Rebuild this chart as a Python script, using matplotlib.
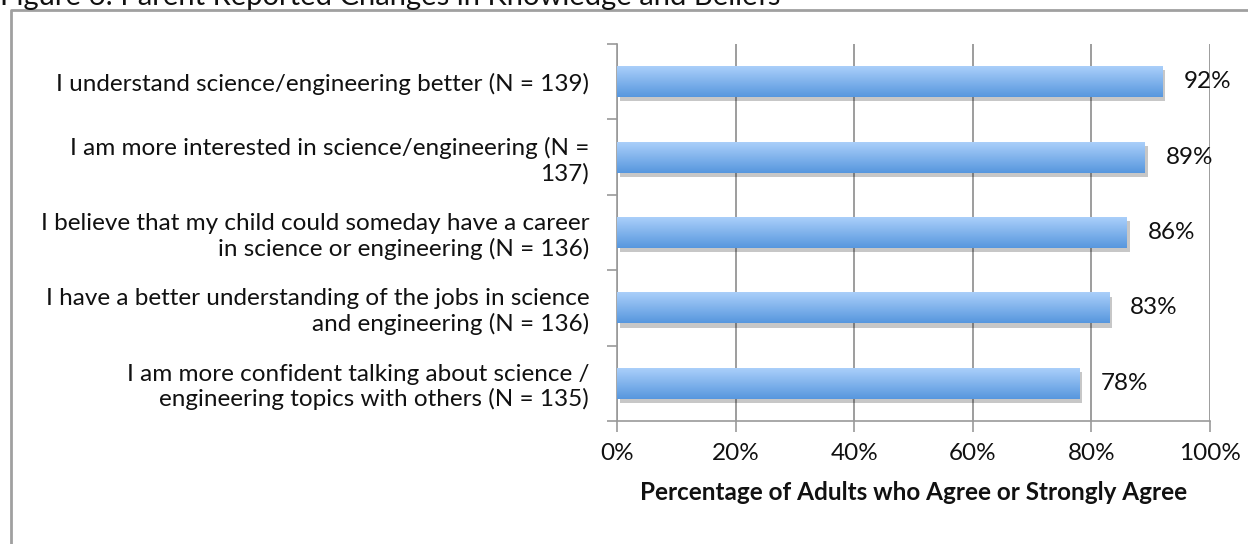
import numpy as np
import matplotlib
matplotlib.use("Agg")
import matplotlib.pyplot as plt
import matplotlib.patheffects as pe
from matplotlib.lines import Line2D
from matplotlib.colors import LinearSegmentedColormap
from matplotlib.ticker import FixedLocator, PercentFormatter

plt.rcParams['font.family'] = ['Lato', 'DejaVu Sans']

# ---- data ----
title = "Figure 6: Parent Reported Changes in Knowledge and Beliefs"
labels = [
    "I understand science/engineering better (N = 139)",
    "I am more interested in science/engineering (N =\n137)",
    "I believe that my child could someday have a career\nin science or engineering (N = 136)",
    "I have a better understanding of the jobs in science\nand engineering (N = 136)",
    "I am more confident talking about science /\nengineering topics with others (N = 135)",
]
values = [92, 89, 86, 83, 78]
xlabel = "Percentage of Adults who Agree or Strongly Agree"

W, H = 1248, 544
FS = 17.5
fig = plt.figure(figsize=(W / 100, H / 100), dpi=100)
ax = fig.add_axes([617 / W, 1 - 421 / H, (1210 - 617) / W, (421 - 44) / H])

y = np.arange(len(values))
bh = 0.41
bars = ax.barh(y, values, height=bh, color="#7fb2ee", zorder=3)
grad = LinearSegmentedColormap.from_list("g", ["#aacffa", "#5797de"])
for b in bars:
    b.set_path_effects([pe.SimplePatchShadow(offset=(2, -3), shadow_rgbFace="#000000", alpha=0.22),
                        pe.Normal()])
    x0, y0 = b.get_x(), b.get_y()
    # rows of the gradient run top (light) to bottom (dark) on the inverted y axis
    im = ax.imshow(np.linspace(0, 1, 64).reshape(-1, 1), cmap=grad, aspect="auto",
                   extent=(x0, x0 + b.get_width(), y0, y0 + b.get_height()),
                   origin="lower", zorder=4)
    im.set_clip_path(b)

for yi, v in zip(y, values):
    ax.annotate(f"{v}%", (v, yi), xytext=(15, 0), textcoords="offset points",
                va="center", ha="left", fontsize=FS, color="#111111", zorder=5)

ax.set_xlim(0, 100)
ax.set_ylim(len(values) - 0.5, -0.5)
ax.set_xticks(np.arange(0, 101, 20))
ax.xaxis.set_major_formatter(PercentFormatter(decimals=0))
ax.set_yticks(y)
ax.set_yticklabels(labels, fontsize=FS, linespacing=1.2, color="#111111")
ax.yaxis.set_minor_locator(FixedLocator(np.arange(-0.5, len(values), 1)))
ax.tick_params(axis="y", which="major", length=0, pad=20)
ax.tick_params(axis="y", which="minor", length=7, width=1.2, color="#999999")
ax.tick_params(axis="x", length=8, width=1.2, color="#999999", labelsize=FS, pad=8,
               labelcolor="#111111")
ax.grid(axis="x", color="#8c8c8c", lw=1.2, zorder=0)
for s in ("top", "right"):
    ax.spines[s].set_visible(False)
for s in ("left", "bottom"):
    ax.spines[s].set_color("#999999")
    ax.spines[s].set_linewidth(1.2)
ax.set_xlabel(xlabel, fontsize=FS, fontweight="bold", labelpad=12, color="#111111")

# frame and cut-off caption
fig.add_artist(Line2D([11 / W, 11 / W, 1], [0, 1 - 10 / H, 1 - 10 / H],
                      transform=fig.transFigure, color="#a0a0a0", lw=2))
fig.text(0.0, 1 - 5 / H, title, fontsize=21, va="baseline", ha="left", color="#111111")

fig.savefig("out.png", dpi=100)
